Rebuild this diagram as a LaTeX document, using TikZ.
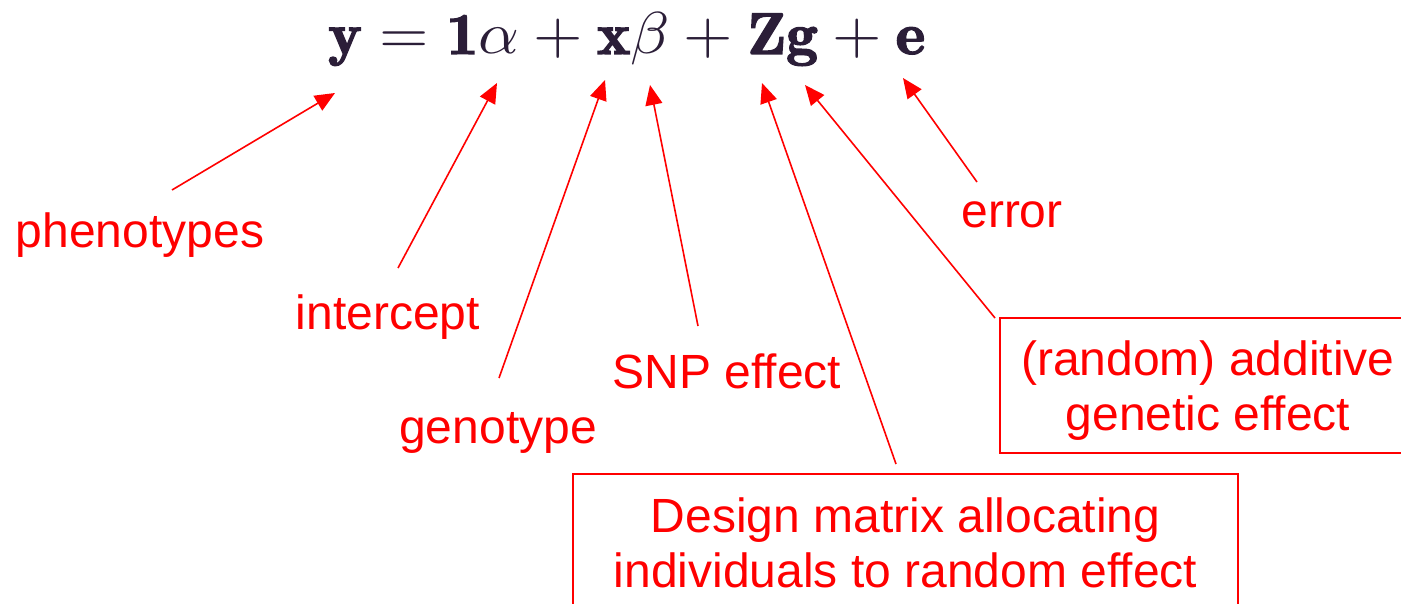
\documentclass[tikz,border=0pt]{standalone}
\usepackage{fontspec}
\usepackage{amsmath}
\usetikzlibrary{arrows.meta}
\newfontfamily\lab{Liberation Sans}
\definecolor{lred}{RGB}{255,0,0}
\definecolor{eqc}{RGB}{43,30,56}
\newcommand{\heavyon}{\special{pdf:literal direct 2 Tr 0.22 w}}
\newcommand{\heavyoff}{\special{pdf:literal direct 0 Tr}}
\newcommand{\hb}[1]{\heavyon\mathbf{#1}\heavyoff}
\tikzset{
  lbl/.style={text=lred, font=\lab\fontsize{48}{55}\selectfont, inner sep=0pt, anchor=base},
  boxlbl/.style={draw=lred, line width=1.5pt, text=lred, font=\lab\fontsize{48}{55}\selectfont, inner sep=0pt, align=center},
  arr/.style={draw=lred, line width=1.6pt, -{Triangle[length=20pt,width=17pt]}}
}
\begin{document}
\begin{tikzpicture}[x=1pt,y=-1pt]
\useasboundingbox (0,0) rectangle (1401,604);
\clip (0,0) rectangle (1401,604);
\node[anchor=base west, inner sep=0pt, text=eqc] (eq) at (328,54)
  {\resizebox{597pt}{41pt}{$\hb{y}=\hb{1}\alpha+\hb{x}\beta+\hb{Z}\hb{g}+\hb{e}$}};
\node[lbl] (phen) at (140,248) {phenotypes};
\node[lbl] (icpt) at (388,330) {intercept};
\node[lbl] (geno) at (498,443) {genotype};
\node[lbl] (snp) at (727,388) {SNP effect};
\node[lbl] (err) at (1012,228) {error};
\node[boxlbl, minimum width=416pt, minimum height=135pt] (gen) at (1208,385.5) {\rule{0pt}{44.2pt}(random) additive\\genetic effect};
\node[boxlbl, minimum width=665pt, minimum height=135pt] (des) at (905.5,541.5) {\rule{0pt}{36.6pt}Design matrix allocating\\individuals to random effect};
\coordinate (t1) at (172,190); \coordinate (h1) at (335,93);
\coordinate (t2) at (398,268); \coordinate (h2) at (497,83);
\coordinate (t3) at (499,378); \coordinate (h3) at (605,80);
\coordinate (t4) at (698,326); \coordinate (h4) at (650,85);
\coordinate (t5) at (896,464); \coordinate (h5) at (762,83);
\coordinate (t6) at (995,318); \coordinate (h6) at (805,85);
\coordinate (t7) at (977,182); \coordinate (h7) at (903,78);
\draw[arr] (t1) -- (h1);
\draw[arr] (t2) -- (h2);
\draw[arr] (t3) -- (h3);
\draw[arr] (t4) -- (h4);
\draw[arr] (t5) -- (h5);
\draw[arr] (t6) -- (h6);
\draw[arr] (t7) -- (h7);
\end{tikzpicture}
\end{document}
